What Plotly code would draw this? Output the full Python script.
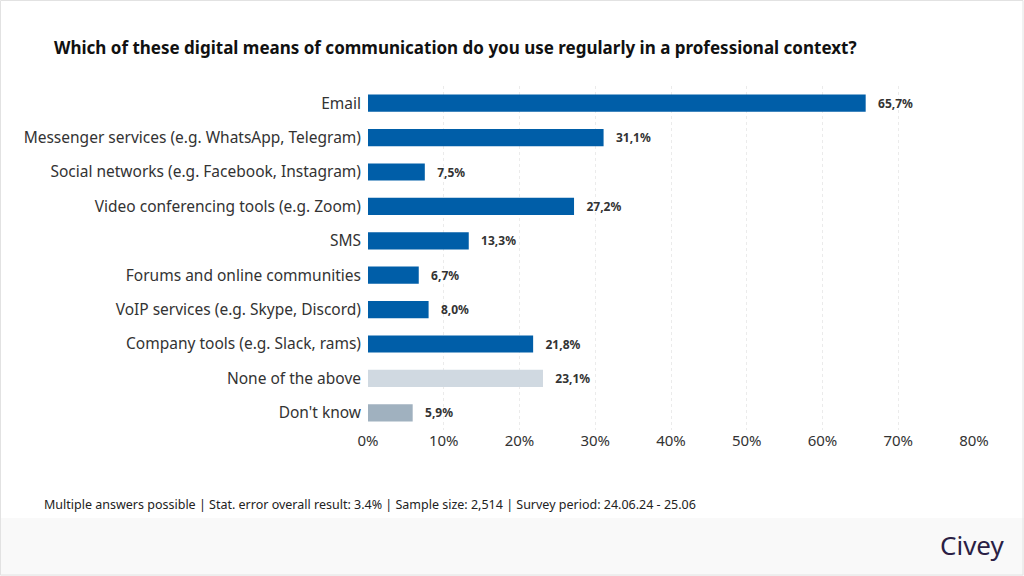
import plotly.graph_objects as go

categories = [
    "Email",
    "Messenger services (e.g. WhatsApp, Telegram)",
    "Social networks (e.g. Facebook, Instagram)",
    "Video conferencing tools (e.g. Zoom)",
    "SMS",
    "Forums and online communities",
    "VoIP services (e.g. Skype, Discord)",
    "Company tools (e.g. Slack, rams)",
    "None of the above",
    "Don't know",
]
values = [65.7, 31.1, 7.5, 27.2, 13.3, 6.7, 8.0, 21.8, 23.1, 5.9]
bar_colors = ["#005ea8"] * 8 + ["#d0d9e1", "#a0b1bf"]
tick_vals = [0, 10, 20, 30, 40, 50, 60, 70, 80]
tick_text = [f"{v}%" for v in tick_vals]
labels = [f"{v:.1f}%".replace(".", ",") for v in values]

W, H = 1024, 576
L, R, T, B = 368, 50, 86, 146
pw, ph = W - L - R, H - T - B

def px_x(x):
    return (x - L) / pw

def px_y(y):
    return (H - B - y) / ph

fig = go.Figure()
fig.add_trace(go.Bar(
    y=categories, x=values, orientation="h",
    marker=dict(color=bar_colors, line=dict(width=0)),
    width=0.5,
    text=labels, textposition="outside",
    textfont=dict(family="Noto Sans", size=12, color="#333333", weight="bold"),
    cliponaxis=False, hoverinfo="skip",
))
fig.update_traces(texttemplate="   %{text}")

fig.update_layout(
    width=W, height=H,
    margin=dict(l=L, r=R, t=T, b=B, pad=0),
    paper_bgcolor="white", plot_bgcolor="white",
    showlegend=False,
    font=dict(family="Noto Sans", color="#333333"),
    xaxis=dict(range=[0, 80], tickvals=tick_vals, ticktext=tick_text,
               showgrid=True, gridcolor="#ebebeb", griddash="dot", gridwidth=1,
               zeroline=False, showline=False, ticks="",
               tickfont=dict(size=15, color="#333333"), fixedrange=True),
    yaxis=dict(autorange="reversed", showgrid=False, zeroline=False,
               ticks="", ticklabelstandoff=6,
               tickfont=dict(size=15.5, color="#333333"), fixedrange=True),
    bargap=0.5,
    shapes=[
        dict(type="rect", xref="paper", yref="paper", layer="below",
             x0=px_x(0), x1=px_x(W), y0=px_y(518), y1=px_y(H),
             fillcolor="#f9f9f9", line=dict(width=0)),
        dict(type="rect", xref="paper", yref="paper", layer="below",
             x0=px_x(0.5), x1=px_x(W - 1), y0=px_y(0.5), y1=px_y(H - 1),
             fillcolor="rgba(0,0,0,0)", line=dict(color="#e2e2e2", width=1)),
    ],
    annotations=[
        dict(text="<b>Which of these digital means of communication do you use regularly in a professional context?</b>",
             xref="paper", yref="paper", x=px_x(52), y=px_y(47),
             xanchor="left", yanchor="middle", showarrow=False,
             font=dict(size=17, color="#111111", family="Noto Sans")),
        dict(text="Multiple answers possible | Stat. error overall result: 3.4% | Sample size: 2,514 | Survey period: 24.06.24 - 25.06",
             xref="paper", yref="paper", x=px_x(42), y=px_y(504),
             xanchor="left", yanchor="middle", showarrow=False,
             font=dict(size=12.5, color="#222222", family="Noto Sans")),
        dict(text="Civey",
             xref="paper", yref="paper", x=px_x(1006), y=px_y(545),
             xanchor="right", yanchor="middle", showarrow=False,
             font=dict(size=26, color="#2b1f45", family="Noto Sans")),
    ],
)

fig.write_html("out.html", config={"displayModeBar": False},
               post_script="document.body.style.margin='0';document.body.style.padding='0';")
